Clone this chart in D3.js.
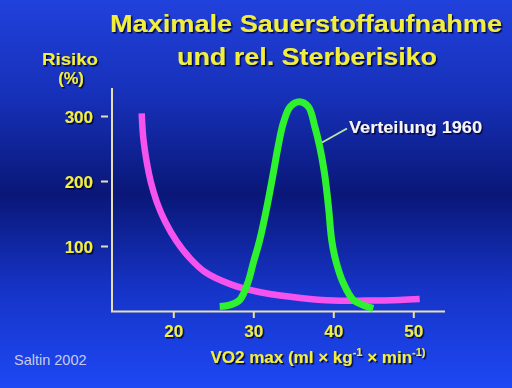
<!DOCTYPE html>
<html>
<head>
<meta charset="utf-8">
<script src="https://cdn.jsdelivr.net/npm/d3@7"></script>
<style>
  html, body { margin: 0; padding: 0; background: #0a1a80; }
  svg { display: block; }
  text { font-family: "Liberation Sans", Arial, sans-serif; }
</style>
</head>
<body>
<svg id="chart" width="512" height="388"></svg>
<script>
// ---- data ----
const titleLines = ["Maximale Sauerstoffaufnahme", "und rel. Sterberisiko"];
const xTicks = [20, 30, 40, 50];
const yTicks = [100, 200, 300];
// relative mortality risk (%) vs VO2 max
const riskX = [16.05, 16.25, 16.68, 17.18, 17.93, 18.96, 20.42, 22.09, 23.96, 27.2, 31.2, 35.9, 40, 44.2, 48.3, 50.8];
const riskY = [304, 266, 229, 199, 168, 138, 107, 81, 60, 41, 28, 20, 16, 16, 17, 18.5];
// distribution 1960 (scaled to risk axis)
const distX = [25.8, 27.0, 28.3, 29.3, 30.0, 30.8, 31.7, 32.5, 33.1, 33.75, 34.6, 35.75, 36.9, 37.7, 38.3, 38.9, 39.4, 39.8, 40.3, 41.25, 42.5, 43.75, 45.0];
const distY = [7, 9, 17, 43, 74, 109, 160, 212, 253, 289, 314, 322, 314, 283, 253, 212, 160, 109, 78, 43, 17, 9, 4];

const svg = d3.select("#chart");
const W = 512, H = 388;

// background gradient
const defs = svg.append("defs");
const grad = defs.append("linearGradient").attr("id", "bg")
  .attr("x1", 0).attr("y1", 0).attr("x2", 0).attr("y2", 1);
[[0, "#2141dc"], [0.25, "#1630b8"], [0.5, "#0a1778"], [0.75, "#1634c8"], [1, "#1e48f4"]]
  .forEach(([o, c]) => grad.append("stop").attr("offset", o).attr("stop-color", c));
svg.append("rect").attr("width", W).attr("height", H).attr("fill", "url(#bg)");

const shadow = defs.append("filter").attr("id", "shadow")
  .attr("x", "-10%").attr("y", "-20%").attr("width", "130%").attr("height", "150%");
shadow.append("feDropShadow").attr("dx", 1.5).attr("dy", 1.5).attr("stdDeviation", 0.6)
  .attr("flood-color", "#000030").attr("flood-opacity", 0.9);

// scales
const x = d3.scaleLinear().domain([20, 50]).range([173.3, 413.3]);
const y = d3.scaleLinear().domain([0, 300]).range([311, 116]);
const plotLeft = 112, plotRight = 445, plotTop = 88;

const yellow = "#f2ee3c";
const axisCol = "#e6dfb8";

// title
svg.append("g").attr("filter", "url(#shadow)").selectAll("text").data(titleLines).join("text")
  .attr("x", (d, i) => i === 0 ? 306 : 307)
  .attr("y", (d, i) => i === 0 ? 32 : 64.5)
  .attr("text-anchor", "middle")
  .attr("font-size", 23.5).attr("font-weight", "bold")
  .attr("fill", yellow)
  .attr("textLength", (d, i) => i === 0 ? 392 : 260)
  .attr("lengthAdjust", "spacingAndGlyphs")
  .text(d => d);

// y axis title
const yt = svg.append("g").attr("filter", "url(#shadow)")
  .attr("font-weight", "bold").attr("fill", yellow).attr("text-anchor", "middle");
yt.append("text").attr("x", 70).attr("y", 65).attr("font-size", 16.5)
  .attr("textLength", 56).attr("lengthAdjust", "spacingAndGlyphs").text("Risiko");
yt.append("text").attr("x", 71).attr("y", 84).attr("font-size", 16.5).text("(%)");

// axes lines
svg.append("line").attr("x1", plotLeft).attr("x2", plotLeft).attr("y1", plotTop).attr("y2", y(0) + 1)
  .attr("stroke", axisCol).attr("stroke-width", 2);
svg.append("line").attr("x1", plotLeft - 1).attr("x2", plotRight).attr("y1", y(0) + 0.5).attr("y2", y(0) + 0.5)
  .attr("stroke", axisCol).attr("stroke-width", 2);

// y axis ticks
const yAxis = svg.append("g").attr("transform", `translate(${plotLeft - 4},0)`)
  .call(d3.axisLeft(y).tickValues(yTicks).tickSize(7).tickPadding(8));
yAxis.select(".domain").remove();
yAxis.selectAll(".tick line").attr("stroke", axisCol).attr("stroke-width", 2);
yAxis.selectAll(".tick text").attr("fill", yellow).attr("font-size", 17).attr("font-weight", "bold")
  .attr("font-family", "Liberation Sans, Arial, sans-serif").attr("filter", "url(#shadow)")
  .attr("dy", "0.36em");

// x axis ticks
const xAxis = svg.append("g").attr("transform", `translate(0,${y(0) + 1})`)
  .call(d3.axisBottom(x).tickValues(xTicks).tickSize(6).tickPadding(7));
xAxis.select(".domain").remove();
xAxis.selectAll(".tick line").attr("stroke", "#e8e0a0").attr("stroke-width", 2);
xAxis.selectAll(".tick text").attr("fill", yellow).attr("font-size", 17).attr("font-weight", "bold")
  .attr("font-family", "Liberation Sans, Arial, sans-serif").attr("filter", "url(#shadow)");

// x axis title
const xt = svg.append("text").attr("x", 318).attr("y", 363).attr("text-anchor", "middle")
  .attr("font-size", 17).attr("font-weight", "bold").attr("fill", yellow)
  .attr("filter", "url(#shadow)");
xt.append("tspan").text("VO2 max (ml \u00d7 kg");
xt.append("tspan").attr("font-size", 11).attr("dy", -7).text("-1");
xt.append("tspan").attr("dy", 7).text(" \u00d7 min");
xt.append("tspan").attr("font-size", 11).attr("dy", -7).text("-1)");

// curves
const risk = riskX.map((v, i) => [v, riskY[i]]);
const dist = distX.map((v, i) => [v, distY[i]]);
const line = d3.line().x(d => x(d[0])).y(d => y(d[1])).curve(d3.curveCatmullRom.alpha(0.5));

svg.append("path").datum(risk).attr("d", line)
  .attr("fill", "none").attr("stroke", "#f553ee").attr("stroke-width", 6.5);
svg.append("path").datum(dist).attr("d", line)
  .attr("fill", "none").attr("stroke", "#2ef22e").attr("stroke-width", 7).attr("stroke-linejoin", "round");

// annotation
svg.append("line").attr("x1", 347).attr("y1", 128.5).attr("x2", 322).attr("y2", 142.5)
  .attr("stroke", "#b8e6a0").attr("stroke-width", 2);
svg.append("text").attr("x", 349).attr("y", 133).attr("font-size", 16.5).attr("font-weight", "bold")
  .attr("fill", "#f4f4fa").attr("textLength", 133).attr("lengthAdjust", "spacingAndGlyphs")
  .attr("filter", "url(#shadow)").text("Verteilung 1960");

// source
svg.append("text").attr("x", 14).attr("y", 365).attr("font-size", 14.5)
  .attr("fill", "#c9cbe6").attr("font-family", "Liberation Sans, Arial, sans-serif")
  .text("Saltin 2002");
</script>
</body>
</html>
